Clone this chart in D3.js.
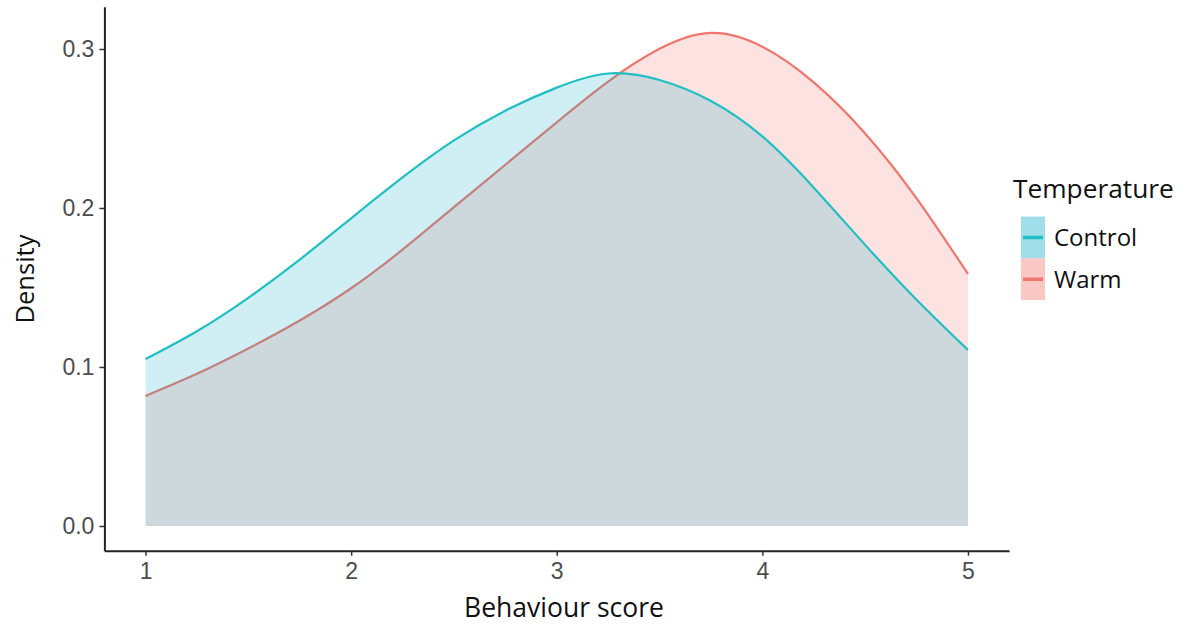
<!DOCTYPE html>
<html>
<head>
<meta charset="utf-8">
<script src="https://cdn.jsdelivr.net/npm/d3@7"></script>
<style>
  body { margin: 0; background: #fff; }
  #chart text { font-family: "Open Sans", sans-serif; }
  .tick text { font-family: "Liberation Sans", Arial, sans-serif !important; fill: #4d4d4d; }
</style>
</head>
<body>
<svg id="chart"></svg>
<script>
// behaviour score grid and density estimates
const scores = [1, 1.25, 1.5, 1.75, 2, 2.25, 2.5, 2.75, 3, 3.25, 3.5, 3.75, 4, 4.25, 4.5, 4.75, 5];
const controlDensity = [0.105, 0.1225, 0.1435, 0.1675, 0.1935, 0.2192, 0.2425, 0.2612, 0.2757, 0.2846, 0.2805, 0.2673, 0.245, 0.2128, 0.1768, 0.1423, 0.1107];
const warmDensity = [0.0818, 0.0957, 0.1116, 0.1292, 0.1495, 0.1738, 0.2005, 0.2272, 0.2539, 0.2795, 0.3001, 0.3101, 0.3014, 0.279, 0.2469, 0.2061, 0.1585];
const groups = ["Control", "Warm"];
const xTicks = [1, 2, 3, 4, 5];
const yTicks = [0, 0.1, 0.2, 0.3];

const w = 1188;
const h = 625;

const svg = d3.select("#chart").attr("width", w).attr("height", h);

const color = d3.scaleOrdinal().domain(groups).range(["#1fbfc3", "#f0756c"]);
const fillColor = d3.scaleOrdinal().domain(groups).range(["#12aec8", "#f0756c"]);

// ggplot-style 5% expansion of the data range
const xScale = d3.scaleLinear().domain([0.8, 5.2]).range([104.4, 1009.1]);
const yScale = d3.scaleLinear().domain([-0.01555, 0.3266]).range([550.7, 6.7]);

const series = [
  { name: "Warm", values: scores.map((s, i) => ({ x: s, y: warmDensity[i] })) },
  { name: "Control", values: scores.map((s, i) => ({ x: s, y: controlDensity[i] })) }
];

const area = d3
  .area()
  .x((d) => xScale(d.x))
  .y0(yScale(0))
  .y1((d) => yScale(d.y))
  .curve(d3.curveNatural);

const line = d3
  .line()
  .x((d) => xScale(d.x))
  .y((d) => yScale(d.y))
  .curve(d3.curveNatural);

series.forEach((s) => {
  svg.append("path").datum(s.values).attr("d", area).attr("fill", fillColor(s.name)).attr("fill-opacity", 0.2);
  svg
    .append("path")
    .datum(s.values)
    .attr("d", line)
    .attr("fill", "none")
    .attr("stroke", color(s.name))
    .attr("stroke-width", 2.2);
});

const xAxis = d3
  .axisBottom(xScale)
  .tickValues(xTicks)
  .tickFormat(d3.format("d"))
  .tickSizeInner(5)
  .tickSizeOuter(0)
  .tickPadding(5);
const yAxis = d3
  .axisLeft(yScale)
  .tickValues(yTicks)
  .tickFormat(d3.format(".1f"))
  .tickSizeInner(5)
  .tickSizeOuter(0)
  .tickPadding(5);

const gx = svg.append("g").attr("transform", "translate(0, 550.7)").call(xAxis);
const gy = svg.append("g").attr("transform", "translate(104.4, 0)").call(yAxis);

[gx, gy].forEach((g) => {
  g.select(".domain").attr("stroke", "#222").attr("stroke-width", 2);
  g.selectAll(".tick line").attr("stroke", "#333").attr("stroke-width", 1.5);
  g.selectAll(".tick text").attr("font-size", 23);
});
gx.selectAll(".tick text").attr("dy", "0.8em");

svg
  .append("text")
  .attr("x", 564)
  .attr("y", 617)
  .attr("text-anchor", "middle")
  .attr("font-size", 26.5)
  .attr("fill", "#111")
  .text("Behaviour score");

svg
  .append("text")
  .attr("transform", "translate(34, 279) rotate(-90)")
  .attr("text-anchor", "middle")
  .attr("font-size", 25.5)
  .attr("fill", "#111")
  .text("Density");

// legend
const legend = svg.append("g").attr("transform", "translate(1013, 0)");

legend
  .append("text")
  .attr("x", 0)
  .attr("y", 198)
  .attr("font-size", 26.3)
  .attr("fill", "#111")
  .text("Temperature");

groups.forEach((g, i) => {
  const top = 216.5 + i * 41.8;
  legend
    .append("rect")
    .attr("x", 8)
    .attr("y", top)
    .attr("width", 24)
    .attr("height", 41.8)
    .attr("fill", fillColor(g))
    .attr("fill-opacity", 0.4);
  legend
    .append("line")
    .attr("x1", 10)
    .attr("x2", 30)
    .attr("y1", top + 21)
    .attr("y2", top + 21)
    .attr("stroke", color(g))
    .attr("stroke-width", 3.5);
  legend
    .append("text")
    .attr("x", 41)
    .attr("y", top + 29.5)
    .attr("font-size", 24)
    .attr("fill", "#111")
    .text(g);
});
</script>
</body>
</html>
